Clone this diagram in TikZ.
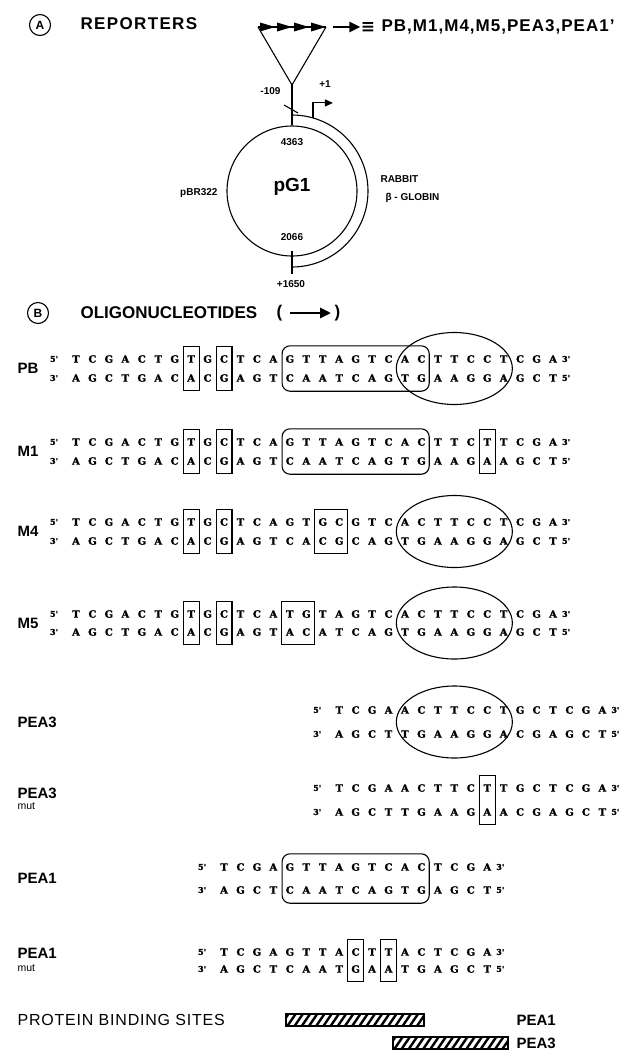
\documentclass[tikz,border=0pt]{standalone}
\usepackage{fontspec}
\setmainfont{Liberation Sans}
\newfontfamily\seqfont{DejaVu Serif}[BoldFeatures={FakeBold=1.4}]
\newfontfamily\symfont{DejaVu Sans}
\usetikzlibrary{arrows.meta,fit,shapes.geometric,calc}

% letter-spaced text
\newcommand\spaced[2]{{\addfontfeatures{LetterSpace=#1}#2}}

% one strand: prefix, first column, y, comma list of bases
\newcommand\strand[4]{%
  \foreach \ch [count=\i from #2] in {#4} {%
    \node[ntide] (#1\i) at ({76+(\i-1)*16.45},#3) {\ch};}}

% a duplex: prefix, first col, last col, y top, y bottom, top bases, bottom bases
\newcommand\duplex[7]{%
  \strand{#1t}{#2}{#4}{#6}
  \strand{#1b}{#2}{#5}{#7}
  \node[primes] (#1tL) at ($(#1t#2)+(-22,0)$) {5'};
  \node[primes] (#1tR) at ($(#1t#3)+(13,0)$) {3'};
  \node[primes] (#1bL) at ($(#1b#2)+(-22,0)$) {3'};
  \node[primes] (#1bR) at ($(#1b#3)+(13,0)$) {5'};}

\tikzset{
  ntide/.style={font=\seqfont\bfseries\fontsize{10}{11}\selectfont, inner sep=0pt,
    minimum width=16.45pt, text height=7.3pt, text depth=0pt},
  primes/.style={font=\seqfont\bfseries\fontsize{8}{9}\selectfont, inner sep=0pt},
  headtext/.style={font=\bfseries\fontsize{17}{19}\selectfont, anchor=west, inner sep=0pt},
  rowlabel/.style={font=\bfseries\fontsize{15}{17}\selectfont, anchor=west, inner sep=0pt},
  sublabel/.style={font=\fontsize{10.5}{12}\selectfont, anchor=west, inner sep=0pt},
  mapnum/.style={font=\bfseries\fontsize{10}{12}\selectfont, inner sep=0pt},
  tagcircle/.style={draw, circle, minimum size=21pt, inner sep=0pt,
    font=\bfseries\fontsize{12}{14}\selectfont},
  mutbox/.style={draw, inner xsep=-0.8pt, inner ysep=8pt},
  sitebox/.style={draw, rounded corners=8pt, inner xsep=-1pt, inner ysep=9pt},
  siteoval/.style={draw, ellipse, minimum width=116pt, minimum height=72pt, inner sep=0pt},
  hatchbar/.style={draw, line width=1.3pt, inner sep=0pt, minimum height=12pt,
    path picture={
      \foreach \k in {-3,...,22}
        \draw[line width=2.4pt]
          ($(path picture bounding box.south west)+(\k*7.2,2)$) -- ++(11,-16);}},
  fat/.style={line width=2.6pt, -{Triangle[length=11pt,width=10pt]}},
}

\begin{document}
\begin{tikzpicture}[x=1pt, y=-1pt, line width=1.1pt]
\useasboundingbox (0,0) rectangle (622,1053);

% ---------------- A: reporter plasmid ----------------
\node[tagcircle] (tagA) at (40,25) {A};
\node[headtext] (rep) at (80,24) {\spaced{8}{REPORTERS}};

\coordinate (tl) at (258,27);
\coordinate (tr) at (326,27);
\coordinate (apex) at (292,85);
\draw (tl) -- (apex) -- (tr);
\draw (tl) -- (tr);
\foreach \k in {0,...,3}
  \fill ($(tl)+(\k*17,0)$) ++(2,-4.5) -- ++(15,4.5) -- ++(-15,4.5) -- cycle;

\coordinate (arr) at (333,27);
\node[font=\symfont\bfseries\fontsize{17}{19}\selectfont, inner sep=0pt] (equiv) at (368,27) {≡};
\draw[fat] (arr) -- (equiv.west);
\node[headtext] (list) at (381,27) {\spaced{6}{PB,M1,M4,M5,PEA3,PEA1'}};

\node[draw, circle, minimum size=130pt, inner sep=0pt] (pg) at (292,191) {};
\node[font=\bfseries\fontsize{19}{21}\selectfont, inner sep=0pt] (pgname) at (292,187) {pG1};
\coordinate (gtop) at ($(pg.center)+(0,-76)$);
\coordinate (gbot) at ($(pg.center)+(0,76)$);
\draw (apex) -- (pg.north);
\draw (gtop) arc[start angle=-90, end angle=90, radius=76];

% -109 mark and transcription start
\coordinate (m109) at (292,109);
\draw ($(m109)+(-8,-4)$) -- ($(m109)+(6,4)$);
\node[mapnum, anchor=east] (n109) at (281,91) {-109};
\coordinate (tss) at ($(pg.center)+(-74:76)$);
\draw[-{Triangle[length=8pt,width=7pt]}] (tss) -- ++(0,-15) -- ++(20,0);
\node[mapnum] (n1) at (325,84) {+1};

% bottom junction
\draw ($(pg.south)+(0,-6)$) -- ($(gbot)+(0,7)$);
\node[mapnum] (n1650) at (291,284) {+1650};
\node[mapnum] (n4363) at (292,142) {4363};
\node[mapnum] (n2066) at (292,237) {2066};
\node[mapnum, anchor=east] (pbr) at (218,193) {pBR322};
\node[mapnum, anchor=west] (rab) at (380,179) {RABBIT};
\node[mapnum, anchor=west] (glo) at (385,198) {β - GLOBIN};

% ---------------- B: oligonucleotides ----------------
\node[tagcircle] (tagB) at (38,313) {B};
\node[headtext] (oligo) at (80,313) {OLIGONUCLEOTIDES};
\node[headtext] (lpar) at (276,313) {(};
\node[headtext] (rpar) at (334,313) {)};
\draw[fat] (lpar.east) ++(7,0) coordinate (dirA) -- ($(rpar.west)+(-3,0)$) coordinate (dirB);

% PB
\node[rowlabel] (labPB) at (17,368) {PB};
\duplex{pb}{1}{30}{359}{378}
  {T,C,G,A,C,T,G,T,G,C,T,C,A,G,T,T,A,G,T,C,A,C,T,T,C,C,T,C,G,A}
  {A,G,C,T,G,A,C,A,C,G,A,G,T,C,A,A,T,C,A,G,T,G,A,A,G,G,A,G,C,T}
\node[mutbox, fit=(pbt8)(pbb8)] (pbm8) {};
\node[mutbox, fit=(pbt10)(pbb10)] (pbm10) {};
\node[sitebox, fit=(pbt14)(pbb22)] (pbr1) {};
\node[siteoval] (pbe3) at ($(pbt24)!0.5!(pbb24)$) {};

% M1
\node[rowlabel] (labM1) at (17,451) {M1};
\duplex{ma}{1}{30}{442}{461}
  {T,C,G,A,C,T,G,T,G,C,T,C,A,G,T,T,A,G,T,C,A,C,T,T,C,T,T,C,G,A}
  {A,G,C,T,G,A,C,A,C,G,A,G,T,C,A,A,T,C,A,G,T,G,A,A,G,A,A,G,C,T}
\node[mutbox, fit=(mat8)(mab8)] (mam8) {};
\node[mutbox, fit=(mat10)(mab10)] (mam10) {};
\node[sitebox, fit=(mat14)(mab22)] (mar1) {};
\node[mutbox, fit=(mat26)(mab26)] (mam26) {};

% M4
\node[rowlabel] (labM4) at (17,531) {M4};
\duplex{mb}{1}{30}{522}{541}
  {T,C,G,A,C,T,G,T,G,C,T,C,A,G,T,G,C,G,T,C,A,C,T,T,C,C,T,C,G,A}
  {A,G,C,T,G,A,C,A,C,G,A,G,T,C,A,C,G,C,A,G,T,G,A,A,G,G,A,G,C,T}
\node[mutbox, fit=(mbt8)(mbb8)] (mbm8) {};
\node[mutbox, fit=(mbt10)(mbb10)] (mbm10) {};
\node[mutbox, fit=(mbt16)(mbb17)] (mbm16) {};
\node[siteoval] (mbe3) at ($(mbt24)!0.5!(mbb24)$) {};

% M5
\node[rowlabel] (labM5) at (17,623) {M5};
\duplex{mc}{1}{30}{614}{632}
  {T,C,G,A,C,T,G,T,G,C,T,C,A,T,G,T,A,G,T,C,A,C,T,T,C,C,T,C,G,A}
  {A,G,C,T,G,A,C,A,C,G,A,G,T,A,C,A,T,C,A,G,T,G,A,A,G,G,A,G,C,T}
\node[mutbox, fit=(mct8)(mcb8)] (mcm8) {};
\node[mutbox, fit=(mct10)(mcb10)] (mcm10) {};
\node[mutbox, fit=(mct14)(mcb15)] (mcm14) {};
\node[siteoval] (mce3) at ($(mct24)!0.5!(mcb24)$) {};

% PEA3
\node[rowlabel] (labP3) at (17,722) {PEA3};
\duplex{pc}{17}{33}{710}{734}
  {T,C,G,A,A,C,T,T,C,C,T,G,C,T,C,G,A}
  {A,G,C,T,T,G,A,A,G,G,A,C,G,A,G,C,T}
\node[siteoval] (pce3) at ($(pct24)!0.5!(pcb24)$) {};

% PEA3 mut
\node[rowlabel] (labP3m) at (17,793) {PEA3};
\node[sublabel] (labP3mut) at (17,806) {mut};
\duplex{pd}{17}{33}{788}{812}
  {T,C,G,A,A,C,T,T,C,T,T,G,C,T,C,G,A}
  {A,G,C,T,T,G,A,A,G,A,A,C,G,A,G,C,T}
\node[mutbox, fit=(pdt26)(pdb26)] (pdm26) {};

% PEA1
\node[rowlabel] (labP1) at (17,878) {PEA1};
\duplex{pe}{10}{26}{867}{890}
  {T,C,G,A,G,T,T,A,G,T,C,A,C,T,C,G,A}
  {A,G,C,T,C,A,A,T,C,A,G,T,G,A,G,C,T}
\node[sitebox, fit=(pet14)(peb22)] (per1) {};

% PEA1 mut
\node[rowlabel] (labP1m) at (17,953) {PEA1};
\node[sublabel] (labP1mut) at (17,968) {mut};
\duplex{pf}{10}{26}{952}{969}
  {T,C,G,A,G,T,T,A,C,T,T,A,C,T,C,G,A}
  {A,G,C,T,C,A,A,T,G,A,A,T,G,A,G,C,T}
\node[mutbox, fit=(pft18)(pfb18)] (pfm18) {};
\node[mutbox, fit=(pft20)(pfb20)] (pfm20) {};

% binding sites
\node[font=\fontsize{16}{18}\selectfont, anchor=west, inner sep=0pt] (pbs) at (17,1020) {\spaced{5}{PROTEIN BINDING SITES}};
\node[hatchbar, minimum width=138pt] (bar1) at (355,1020) {};
\node[hatchbar, minimum width=115pt] (bar2) at (450.5,1043) {};
\node[rowlabel] (bsP1) at (516,1020) {PEA1};
\node[rowlabel] (bsP3) at (516,1043) {PEA3};
\end{tikzpicture}
\end{document}
